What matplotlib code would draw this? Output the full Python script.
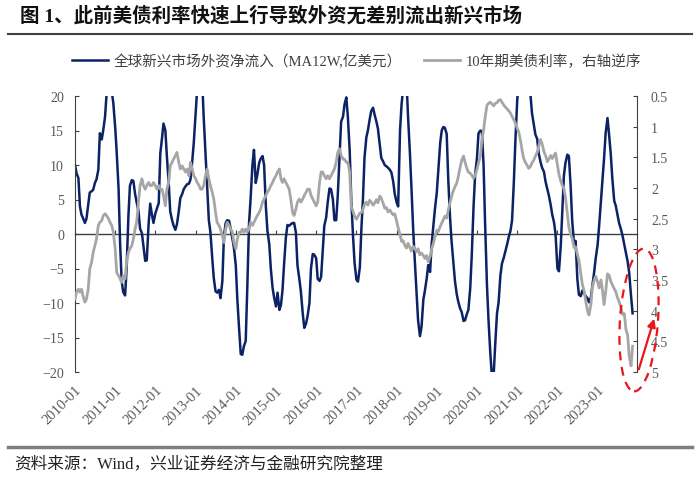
import pandas as pd
import matplotlib
matplotlib.use('Agg')
import matplotlib.pyplot as plt
import matplotlib.dates as mdates
from matplotlib.lines import Line2D
from matplotlib.patches import Ellipse, FancyArrowPatch

plt.rcParams['font.family'] = ['Liberation Serif', 'Noto Sans CJK SC', 'DejaVu Sans']

# semi-monthly readings, 2010-01 .. 2023-11
em_flows = [
    10.0, 8.8, 8.1, 4.0, 2.8, 2.3, 1.6, 2.2, 4.2, 6.0,
    6.2, 6.4, 7.4, 7.9, 9.3, 14.6, 13.7, 15.1, 17.0, 20.3,
    20.8, 21.0, 20.6, 19.0, 15.5, 11.8, 6.5, -1.5, -6.8, -8.4,
    -8.9, -5.0, 2.5, 7.0, 7.8, 7.7, 5.8, 4.6, 3.3, 0.8,
    0.1, -1.8, -3.9, -3.8, 1.5, 4.4, 2.8, 1.6, 3.0, 3.7,
    4.5, 11.7, 13.8, 16.0, 15.0, 11.2, 7.5, 3.3, 2.0, 1.2,
    0.6, 1.4, 3.3, 5.2, 5.8, 6.5, 6.9, 7.2, 7.3, 7.9,
    10.5, 13.2, 17.5, 21.0, 23.0, 24.0, 22.5, 17.0, 11.5, 7.0,
    2.0, 0.3, -3.5, -6.4, -8.3, -8.5, -8.1, -9.3, -6.8, -0.3,
    1.6, 2.0, 1.9, 0.8, -0.7, -2.0, -4.6, -9.5, -14.0, -17.4,
    -17.5, -16.3, -15.5, -8.0, 1.5, 5.0, 10.0, 12.2, 7.4, 8.5,
    10.3, 10.9, 11.3, 10.0, 4.0, 0.5, -1.5, -5.0, -7.8, -9.2,
    -10.5, -8.5, -11.0, -10.3, -8.2, -4.5, -0.5, 1.3, 1.2, 1.4,
    1.6, 1.6, 0.2, -4.5, -6.5, -8.3, -11.5, -13.6, -13.0, -11.9,
    -10.0, -5.0, -2.9, -3.0, -3.5, -6.5, -6.8, -6.2, -2.5, 1.2,
    2.4, 4.6, 6.6, 6.5, 5.0, 2.0, 2.0, 5.5, 11.5, 16.3,
    17.0, 18.8, 19.8, 17.0, 12.0,
    5.0, -0.3, -4.2, -6.6, -6.9, -4.8, 0.8, 5.0, 11.0, 14.0,
    15.0, 16.6, 17.8, 18.3, 17.3, 16.3, 15.3, 13.0, 11.0, 10.5,
    10.0, 9.8, 9.6, 9.3, 8.9, 7.6, 5.8, 4.6, 4.0, 15.0,
    18.8, 21.0, 23.0, 22.0, 17.0, 12.0, 7.0, 0.5, -3.8, -8.3,
    -12.5, -14.8, -13.5, -9.5, -8.2, -6.5, -4.5, -5.5, -1.5, 1.2,
    3.6, 6.0, 9.3, 13.2, 15.0, 15.5, 15.4, 14.5, 8.0, 2.5,
    -1.0, -4.2, -6.8, -8.7, -9.8, -10.8, -11.3, -12.6, -12.5, -11.6,
    -11.0, -7.8, -3.0, 4.0, 8.5, 11.0, 14.6, 15.0, 14.8, 10.0,
    1.5, -7.5, -12.5, -17.2, -20.5, -20.3, -16.0, -11.5, -10.0, -6.0,
    -4.3, -3.4, -2.5, -1.5, -0.5, 0.5, 2.0, 7.5, 13.5, 19.5,
    22.0, 24.0, 25.0, 25.0, 24.0, 23.0, 21.5, 20.2, 17.5, 15.8,
    14.4, 13.8, 11.7, 10.4, 9.6, 9.0, 7.6, 6.5, 5.6, 4.2,
    2.8, 1.7, 0.0, -5.0, -5.4, -1.5, 3.5, 8.5, 10.3, 11.5,
    11.3, 7.0, 2.0, -1.5, -1.0, -6.5, -8.8, -9.0, -8.2, -8.6,
    -9.0, -9.3, -9.9, -9.2, -7.4, -5.5, -3.5, -1.6, 1.2, 5.0,
    8.0, 11.0, 14.6, 16.8, 14.5, 11.5, 8.0, 4.8, 4.1, 2.8,
    1.6, 0.7, -0.2, -1.6, -2.7, -4.0, -5.6, -9.0, -11.5,
]

ust10y = [
    3.81, 3.70, 3.65, 3.70, 3.65, 3.76, 3.86, 3.81, 3.65, 3.32,
    3.21, 3.05, 2.94, 2.83, 2.61, 2.56, 2.53, 2.45, 2.42, 2.45,
    2.50, 2.56, 2.61, 2.72, 2.99, 3.38, 3.43, 3.48, 3.54, 3.43,
    3.48, 3.21, 3.05, 2.99, 2.94, 2.83, 2.67, 2.56, 2.23, 1.96,
    1.85, 1.96, 2.02, 1.96, 1.91, 1.96, 1.96, 1.91, 1.96, 2.02,
    1.96, 2.02, 2.02, 2.12, 2.29, 2.02, 1.91, 1.64, 1.58, 1.53,
    1.47, 1.42, 1.58, 1.69, 1.64, 1.69, 1.74, 1.69, 1.80, 1.58,
    1.69, 1.80, 1.85, 1.91, 1.96, 2.02, 2.02, 1.96, 1.80, 1.69,
    1.85, 1.96, 2.07, 2.18, 2.40, 2.56, 2.61, 2.67, 2.78, 2.89,
    2.67, 2.56, 2.61, 2.67, 2.72, 2.89, 2.99, 2.83, 2.72, 2.72,
    2.67, 2.72, 2.67, 2.72, 2.67, 2.56, 2.61, 2.56, 2.50, 2.45,
    2.40, 2.34, 2.23, 2.18, 2.12, 2.07, 2.02, 1.96, 1.91, 1.85,
    1.80, 1.74, 1.69, 1.85, 1.91, 1.85, 1.91, 1.96, 2.02, 2.18,
    2.40, 2.45, 2.34, 2.23, 2.18, 2.23, 2.18, 2.12, 2.07, 2.02,
    2.02, 2.12, 2.18, 2.23, 2.29, 2.23, 1.91, 1.74, 1.74, 1.80,
    1.85, 1.80, 1.85, 1.80, 1.74, 1.69, 1.58, 1.42, 1.36, 1.47,
    1.53, 1.53, 1.58, 1.58, 1.74,
    2.30, 2.38, 2.46, 2.51, 2.46, 2.41, 2.40, 2.35, 2.27, 2.23,
    2.28, 2.20, 2.23, 2.28, 2.25, 2.19, 2.24, 2.13, 2.17, 2.25,
    2.33, 2.32, 2.39, 2.36, 2.40, 2.44, 2.42, 2.54, 2.65, 2.76,
    2.87, 2.86, 2.93, 2.98, 2.90, 2.97, 3.03, 2.95, 2.99, 3.04,
    2.99, 3.09, 3.06, 3.10, 3.15, 3.10, 3.20, 3.12, 3.00, 2.90,
    2.80, 2.69, 2.71, 2.63, 2.57, 2.52, 2.46, 2.49, 2.36, 2.24,
    2.14, 2.04, 1.98, 1.92, 1.82, 1.66, 1.55, 1.48, 1.58, 1.68,
    1.74, 1.76, 1.79, 1.84, 1.80, 1.70, 1.59, 1.49, 1.20, 1.06,
    0.85, 0.65, 0.62, 0.60, 0.63, 0.66, 0.62, 0.61, 0.57, 0.56,
    0.60, 0.65, 0.68, 0.71, 0.74, 0.78, 0.83, 0.89, 0.94, 1.03,
    1.09, 1.24, 1.40, 1.52, 1.58, 1.63, 1.68, 1.65, 1.59, 1.54,
    1.48, 1.42, 1.32, 1.21, 1.28, 1.41, 1.47, 1.57, 1.53, 1.47,
    1.52, 1.47, 1.43, 1.62, 1.78, 1.89, 1.96, 2.01, 2.15, 2.42,
    2.64, 2.76, 2.82, 2.97, 2.96, 3.08, 3.18, 3.40, 3.57, 3.68,
    3.84, 4.00, 4.07, 3.90, 3.62, 3.50, 3.44, 3.53, 3.63, 3.50,
    3.68, 3.90, 3.70, 3.40, 3.42, 3.52, 3.58, 3.64, 3.69, 3.79,
    3.85, 3.95, 4.06, 4.05, 4.30, 4.40, 4.74, 4.90, 4.58,
]

dates = pd.date_range('2010-01-01', periods=len(em_flows), freq='SMS')
year_ticks = pd.date_range('2010-01-01', '2023-01-01', freq='YS')
left_ticks = [-20, -15, -10, -5, 0, 5, 10, 15, 20]
right_ticks = [0.5, 1, 1.5, 2, 2.5, 3, 3.5, 4, 4.5, 5]
right_labels = ['0.5', '1', '1.5', '2', '2.5', '3', '3.5', '4', '4.5', '5']

NAVY = '#0b2265'
GREY = '#a6a6a6'
TXT = '#595959'
AX = '#404040'

fig = plt.figure(figsize=(7, 4.81), dpi=100)
ax = fig.add_axes([75/700, 1 - 373/481, 562/700, 276/481])
ax2 = ax.twinx()

l1, = ax.plot(dates, em_flows, color=NAVY, lw=1.8)
l2, = ax2.plot(dates, ust10y, color=GREY, lw=2.0)

ax.set_xlim(pd.Timestamp('2010-01-01'), pd.Timestamp('2023-12-25'))
ax.set_ylim(-20, 20)
ax.set_yticks(left_ticks)
ax2.set_ylim(5, 0.5)
ax2.set_yticks(right_ticks)
ax2.set_yticklabels(right_labels)

# x labels at bottom, no ticks
ax.set_xticks(year_ticks)
ax.xaxis.set_major_formatter(mdates.DateFormatter('%Y-%m'))
ax.tick_params(axis='x', length=0, pad=8, labelsize=10.5, labelcolor=TXT)
for lab in ax.get_xticklabels():
    lab.set_rotation(45)
    lab.set_ha('right')
    lab.set_rotation_mode('anchor')

# category axis crossing at zero
zero = ax.secondary_xaxis(0.5)
zero.set_xticks(year_ticks)
zero.tick_params(direction='out', length=3, color=AX, labeltop=False, labelbottom=False)
zero.spines['top'].set_color(AX)
zero.spines['top'].set_linewidth(1.0)

ax.tick_params(axis='y', direction='in', length=3, color=AX, labelsize=10, labelcolor=TXT, pad=8)
ax2.tick_params(axis='y', direction='in', length=3, color=AX, labelsize=10, labelcolor=TXT, pad=10)

for s in ['top', 'bottom', 'right']:
    ax.spines[s].set_visible(False)
for s in ['top', 'bottom', 'left']:
    ax2.spines[s].set_visible(False)
ax.spines['left'].set_color(AX)
ax2.spines['right'].set_color(AX)

fig.legend([l1, l2], ['全球新兴市场外资净流入（MA12W,亿美元）', '10年期美债利率，右轴逆序'],
           loc='center left', bbox_to_anchor=(72/700, 1 - 62/481), ncol=2, frameon=False,
           fontsize=10.5, handlelength=2.5, handletextpad=0.35, columnspacing=1.5,
           borderpad=0, borderaxespad=0, labelcolor='#404040')

fig.text(20/700, 1 - 16/481, '图 1、此前美债利率快速上行导致外资无差别流出新兴市场',
         fontsize=14, fontweight='bold', va='center', ha='left', color='#111111')
fig.add_artist(Line2D([8/700, 692/700], [1 - 35/481] * 2, color='#404040', lw=1.5))
fig.add_artist(Line2D([8/700, 692/700], [1 - 448/481] * 2, color='#7f7f7f', lw=2.5))
fig.text(14/700, 1 - 464/481, '资料来源：Wind，兴业证券经济与金融研究院整理',
         fontsize=12, va='center', ha='left', color='#222222')

# red highlight on the latest move
fig.add_artist(Ellipse((6.39, 1.60), 0.38, 1.43, angle=-4, transform=fig.dpi_scale_trans,
                       fill=False, ec='#e8161b', lw=1.6, ls=(0, (4, 3))))
fig.add_artist(FancyArrowPatch((6.38, 1.08), (6.55, 1.64), transform=fig.dpi_scale_trans,
                               arrowstyle='-|>', mutation_scale=12, color='#e8161b', lw=1.6))

fig.savefig('out.png', dpi=100)
